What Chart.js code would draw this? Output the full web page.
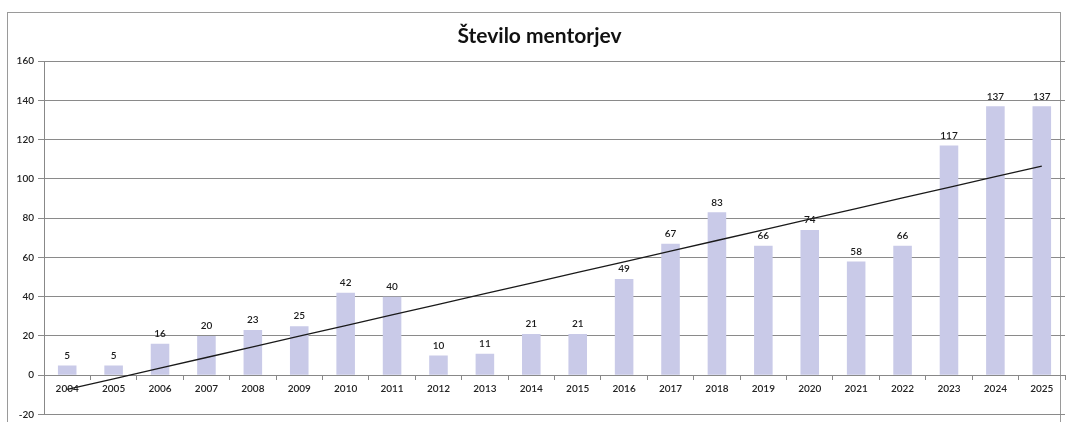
<!DOCTYPE html>
<html>
<head>
<meta charset="utf-8">
<script src="https://cdn.jsdelivr.net/npm/chart.js@4.4.0/dist/chart.umd.min.js"></script>
<style>
  html, body { margin: 0; padding: 0; background: #fff; }
  #wrap { width: 1066px; height: 422px; position: relative; }
</style>
</head>
<body>
<div id="wrap"><canvas id="myChart" width="1066" height="422"></canvas></div>
<script>
const years = ['2004','2005','2006','2007','2008','2009','2010','2011','2012','2013','2014',
               '2015','2016','2017','2018','2019','2020','2021','2022','2023','2024','2025'];
const mentors = [5, 5, 16, 20, 23, 25, 42, 40, 10, 11, 21, 21, 49, 67, 83, 66, 74, 58, 66, 117, 137, 137];
const yTicks = [-20, 0, 20, 40, 60, 80, 100, 120, 140, 160];

// linear trend (least squares) over the series
function trendOf(values) {
    let n = values.length, sx = 0, sy = 0, sxy = 0, sxx = 0;
    values.forEach((v, i) => { sx += i; sy += v; sxy += i * v; sxx += i * i; });
    let slope = (n * sxy - sx * sy) / (n * sxx - sx * sx);
    let icept = (sy - slope * sx) / n;
    return values.map((v, i) => icept + slope * i);
}

const fontFam = 'Lato, "Open Sans", sans-serif';

const frame = {
    id: 'frame',
    beforeDraw(chart) {
        const c = chart.ctx;
        c.save();
        c.fillStyle = '#fff';
        c.fillRect(0, 0, chart.width, chart.height);
        c.strokeStyle = '#9a9a9a';
        c.lineWidth = 1;
        c.strokeRect(7.5, 12.5, 1053, 430);
        c.restore();
    }
};

const barLabels = {
    id: 'barLabels',
    afterDatasetsDraw(chart) {
        const c = chart.ctx;
        const meta = chart.getDatasetMeta(0);
        c.save();
        c.font = '600 10px ' + fontFam;
        c.fillStyle = '#1a1a1a';
        c.textAlign = 'center';
        c.textBaseline = 'bottom';
        meta.data.forEach((bar, i) => {
            c.fillText(mentors[i], bar.x, bar.y - 5);
        });
        c.restore();
    }
};

new Chart(document.getElementById('myChart'), {
    data: {
        labels: years,
        datasets: [{
            type: 'bar',
            label: 'Število mentorjev',
            data: mentors,
            backgroundColor: '#c9cae8',
            borderWidth: 0,
            categoryPercentage: 1,
            barPercentage: 0.4,
            order: 2
        }, {
            type: 'line',
            label: 'trend',
            data: trendOf(mentors),
            borderColor: '#1a1a1a',
            borderWidth: 1.3,
            pointRadius: 0,
            fill: false,
            order: 1
        }]
    },
    options: {
        responsive: false,
        animation: false,
        layout: { padding: { left: 14, right: 1, top: 0, bottom: 3 } },
        plugins: {
            legend: { display: false },
            tooltip: { enabled: false },
            title: {
                display: true,
                text: 'Število mentorjev',
                color: '#111',
                font: { family: fontFam, size: 21, weight: 'bold' },
                padding: { top: 24, bottom: 12 }
            }
        },
        scales: {
            x: {
                position: { y: 0 },
                grid: { drawOnChartArea: false, drawTicks: true, tickLength: 4, color: '#888', offset: true },
                border: { color: '#888', width: 1 },
                ticks: { color: '#222', font: { family: fontFam, size: 10, weight: '600' }, padding: 4, maxRotation: 0 }
            },
            y: {
                min: -20,
                max: 160,
                afterBuildTicks(scale) { scale.ticks = yTicks.map(v => ({ value: v })); },
                afterFit(scale) { scale.width = 30; },
                grid: { color: '#8a8a8a', drawTicks: true, tickLength: 6 },
                border: { color: '#888', width: 1 },
                ticks: { color: '#222', font: { family: fontFam, size: 10, weight: '600', lineHeight: 0.7 }, padding: 4 }
            }
        }
    },
    plugins: [frame, barLabels]
});
</script>
</body>
</html>
